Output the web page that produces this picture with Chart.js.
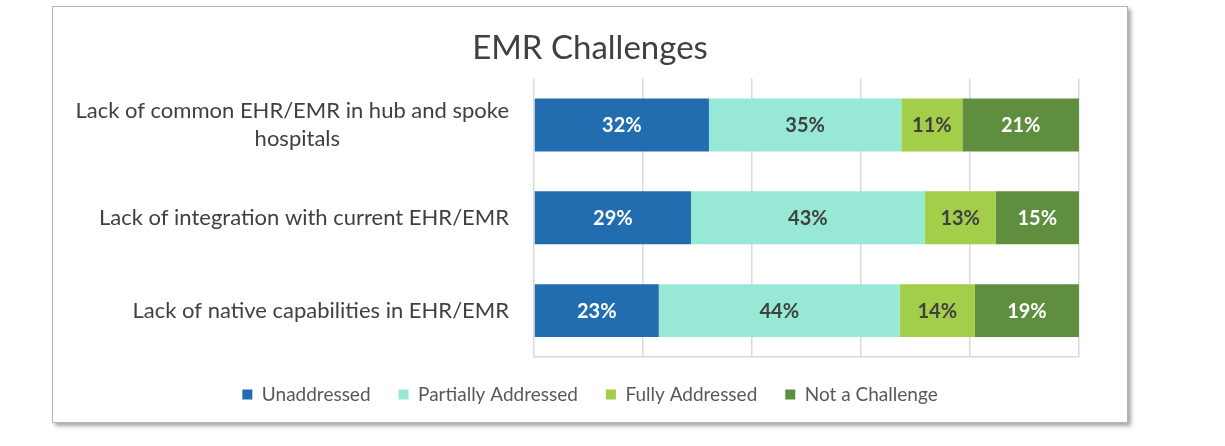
<!DOCTYPE html>
<html>
<head>
<meta charset="utf-8">
<script src="https://cdn.jsdelivr.net/npm/chart.js@4/dist/chart.umd.min.js"></script>
<style>
    html, body { margin: 0; padding: 0; background: #fff; }
    #frame {
        position: absolute;
        left: 52px;
        top: 6px;
        width: 1074px;
        height: 415px;
        border: 1.5px solid #b4b4b4;
        box-shadow: 3px 3px 4px rgba(0, 0, 0, 0.35);
        background: #fff;
    }
    #emr-chart { position: absolute; left: 52px; top: 6px; }
</style>
</head>
<body>
<div id="frame"></div>
<canvas id="emr-chart" width="1076" height="440"></canvas>
<script>
// chart data
const categories = [
    ['Lack of common EHR/EMR in hub and spoke', 'hospitals'],
    'Lack of integration with current EHR/EMR',
    'Lack of native capabilities in EHR/EMR'
];
const seriesNames = ['Unaddressed', 'Partially Addressed', 'Fully Addressed', 'Not a Challenge'];
const unaddressed = [32.1, 28.8, 22.9];
const partiallyAddressed = [35.3, 42.9, 44.2];
const fullyAddressed = [11.2, 13.0, 13.8];
const notAChallenge = [21.4, 15.3, 19.1];

const colors = ['#226cb0', '#98e8d6', '#a3ce4a', '#5f8f3e'];
const labelColors = ['#ffffff', '#404040', '#404040', '#ffffff'];
const fontFamily = 'Lato, "Open Sans", sans-serif';

// centre the second line of a wrapped label under the first by padding with spaces
function centerLines(lines, font) {
    if (!Array.isArray(lines)) return lines;
    const ctx = document.createElement('canvas').getContext('2d');
    ctx.font = font;
    const first = ctx.measureText(lines[0]).width;
    return lines.map((line, i) => {
        if (i === 0) return line;
        let padded = line;
        const target = (first + ctx.measureText(line).width) / 2;
        while (ctx.measureText(padded + ' ').width <= target) padded += ' ';
        return padded;
    });
}

// draw the % inside each segment
const segmentLabels = {
    id: 'segmentLabels',
    afterDatasetsDraw(chart) {
        const ctx = chart.ctx;
        ctx.save();
        ctx.font = 'bold 20px ' + fontFamily;
        ctx.textAlign = 'center';
        ctx.textBaseline = 'middle';
        chart.data.datasets.forEach((ds, di) => {
            chart.getDatasetMeta(di).data.forEach((bar, i) => {
                const x = (bar.x + bar.base) / 2;
                ctx.fillStyle = labelColors[di];
                ctx.fillText(Math.round(ds.data[i]) + '%', x, bar.y + 1);
            });
        });
        ctx.restore();
    }
};

const seriesValues = [unaddressed, partiallyAddressed, fullyAddressed, notAChallenge];

new Chart(document.getElementById('emr-chart'), {
    type: 'bar',
    data: {
        labels: categories,
        datasets: seriesNames.map((name, i) => ({
            label: name,
            data: seriesValues[i],
            backgroundColor: colors[i],
            borderWidth: 0,
            barPercentage: 0.57,
            categoryPercentage: 1
        }))
    },
    options: {
        indexAxis: 'y',
        responsive: false,
        animation: false,
        layout: { padding: { left: 20, right: 20, top: 8, bottom: 32 } },
        scales: {
            x: {
                stacked: true,
                min: 0,
                max: 100,
                ticks: { display: false, stepSize: 20 },
                grid: { color: '#d9d9d9', lineWidth: 1.5, drawTicks: false },
                border: { display: true, color: '#d9d9d9', width: 1.5 }
            },
            y: {
                stacked: true,
                grid: { display: false },
                border: { display: false },
                ticks: {
                    color: '#404040',
                    padding: 17,
                    font: { family: fontFamily, size: 22, lineHeight: 1.3 },
                    callback: function (value, index) {
                        return centerLines(categories[index], '22px ' + fontFamily);
                    }
                },
                afterFit: (axis) => { axis.width = 462; }
            },
            // empty right-hand spacer so the plot ends where the original does
            spacer: {
                type: 'linear',
                position: 'right',
                grid: { display: false },
                border: { display: false },
                ticks: { display: false },
                afterFit: (axis) => { axis.width = 29; }
            }
        },
        plugins: {
            title: {
                display: true,
                text: 'EMR Challenges',
                color: '#404040',
                font: { family: fontFamily, size: 33, weight: 'normal' },
                padding: { top: 15, bottom: 10 }
            },
            legend: {
                position: 'bottom',
                labels: {
                    color: '#595959',
                    boxWidth: 10,
                    boxHeight: 10,
                    padding: 28,
                    font: { family: fontFamily, size: 19 }
                }
            },
            tooltip: { enabled: false }
        }
    },
    plugins: [segmentLabels]
});
</script>
</body>
</html>
